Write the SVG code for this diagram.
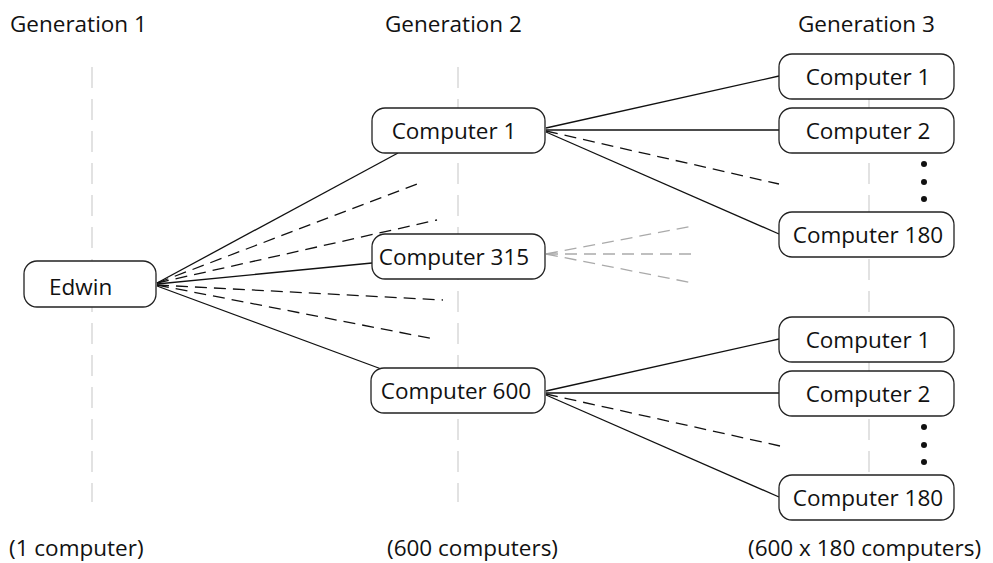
<svg xmlns="http://www.w3.org/2000/svg" width="993" height="563" viewBox="0 0 993 563">
<style>
text{font-family:"Open Sans","Noto Sans","DejaVu Sans",sans-serif;font-size:22.5px;fill:#111}
.box{fill:#fff;stroke:#222;stroke-width:1.3}
.guide{stroke:#cfcfcf;stroke-width:1.2;stroke-dasharray:21 11;fill:none}
.s{stroke:#111;stroke-width:1.3;fill:none}
.d{stroke:#111;stroke-width:1.3;fill:none;stroke-dasharray:12 7}
.g{stroke:#aaa;stroke-width:1.3;fill:none;stroke-dasharray:12 7}
.c{text-anchor:middle}
</style>
<rect width="993" height="563" fill="#fff"/>
<g id="guides">
<line class="guide" x1="92" y1="67" x2="92" y2="502"/>
<line class="guide" x1="458" y1="67" x2="458" y2="502"/>
<line class="guide" x1="869" y1="67" x2="869" y2="502"/>
</g>
<g id="labels">
<text x="10" y="32">Generation 1</text>
<text x="385" y="32">Generation 2</text>
<text x="798" y="32">Generation 3</text>
<text x="9" y="556">(1 computer)</text>
<text x="387" y="556">(600 computers)</text>
<text x="748" y="556">(600 x 180 computers)</text>
</g>
<g id="connectors">
<line class="s" x1="157" y1="283" x2="398" y2="153"/>
<line class="d" x1="157" y1="283" x2="420" y2="183"/>
<line class="d" x1="157" y1="283" x2="437" y2="220"/>
<line class="s" x1="157" y1="284" x2="372" y2="263"/>
<line class="d" x1="157" y1="285" x2="443" y2="300"/>
<line class="d" x1="157" y1="285" x2="434" y2="339"/>
<line class="s" x1="157" y1="286" x2="384" y2="370"/>
<line class="s" x1="546" y1="128" x2="779" y2="76"/>
<line class="s" x1="546" y1="130" x2="779" y2="130"/>
<line class="d" x1="546" y1="131" x2="779" y2="184"/>
<line class="s" x1="546" y1="132" x2="779" y2="234"/>
<line class="g" x1="546" y1="254" x2="693" y2="226"/>
<line class="g" x1="546" y1="254" x2="693" y2="254"/>
<line class="g" x1="546" y1="254" x2="693" y2="283"/>
<line class="s" x1="546" y1="391" x2="779" y2="339"/>
<line class="s" x1="546" y1="393" x2="779" y2="393"/>
<line class="d" x1="546" y1="394" x2="780" y2="446"/>
<line class="s" x1="546" y1="395" x2="779" y2="497"/>
</g>
<g id="edwin"><rect class="box" x="24" y="261" width="132" height="46" rx="13"/><text x="49" y="295">Edwin</text></g>
<g id="g2-c1"><rect class="box" x="372" y="108" width="173" height="45" rx="13"/><text class="c" x="454" y="139">Computer 1</text></g>
<g id="g2-c315"><rect class="box" x="372" y="234" width="173" height="45" rx="13"/><text class="c" x="454" y="265">Computer 315</text></g>
<g id="g2-c600"><rect class="box" x="371" y="368" width="174" height="45" rx="13"/><text class="c" x="456" y="399">Computer 600</text></g>
<g id="g3a-c1"><rect class="box" x="779" y="54" width="175" height="45" rx="13"/><text class="c" x="868" y="85">Computer 1</text></g>
<g id="g3a-c2"><rect class="box" x="779" y="108" width="175" height="45" rx="13"/><text class="c" x="868" y="139">Computer 2</text></g>
<g id="g3a-c180"><rect class="box" x="779" y="212" width="175" height="45" rx="13"/><text class="c" x="868" y="243">Computer 180</text></g>
<g id="g3b-c1"><rect class="box" x="779" y="317" width="175" height="45" rx="13"/><text class="c" x="868" y="348">Computer 1</text></g>
<g id="g3b-c2"><rect class="box" x="779" y="371" width="175" height="45" rx="13"/><text class="c" x="868" y="402">Computer 2</text></g>
<g id="g3b-c180"><rect class="box" x="779" y="475" width="175" height="45" rx="13"/><text class="c" x="868" y="506">Computer 180</text></g>
<g id="dots" fill="#111">
<circle cx="924" cy="164" r="3"/><circle cx="924" cy="182" r="3"/><circle cx="924" cy="199" r="3"/>
<circle cx="924" cy="427" r="3"/><circle cx="924" cy="445" r="3"/><circle cx="924" cy="462" r="3"/>
</g>
</svg>
